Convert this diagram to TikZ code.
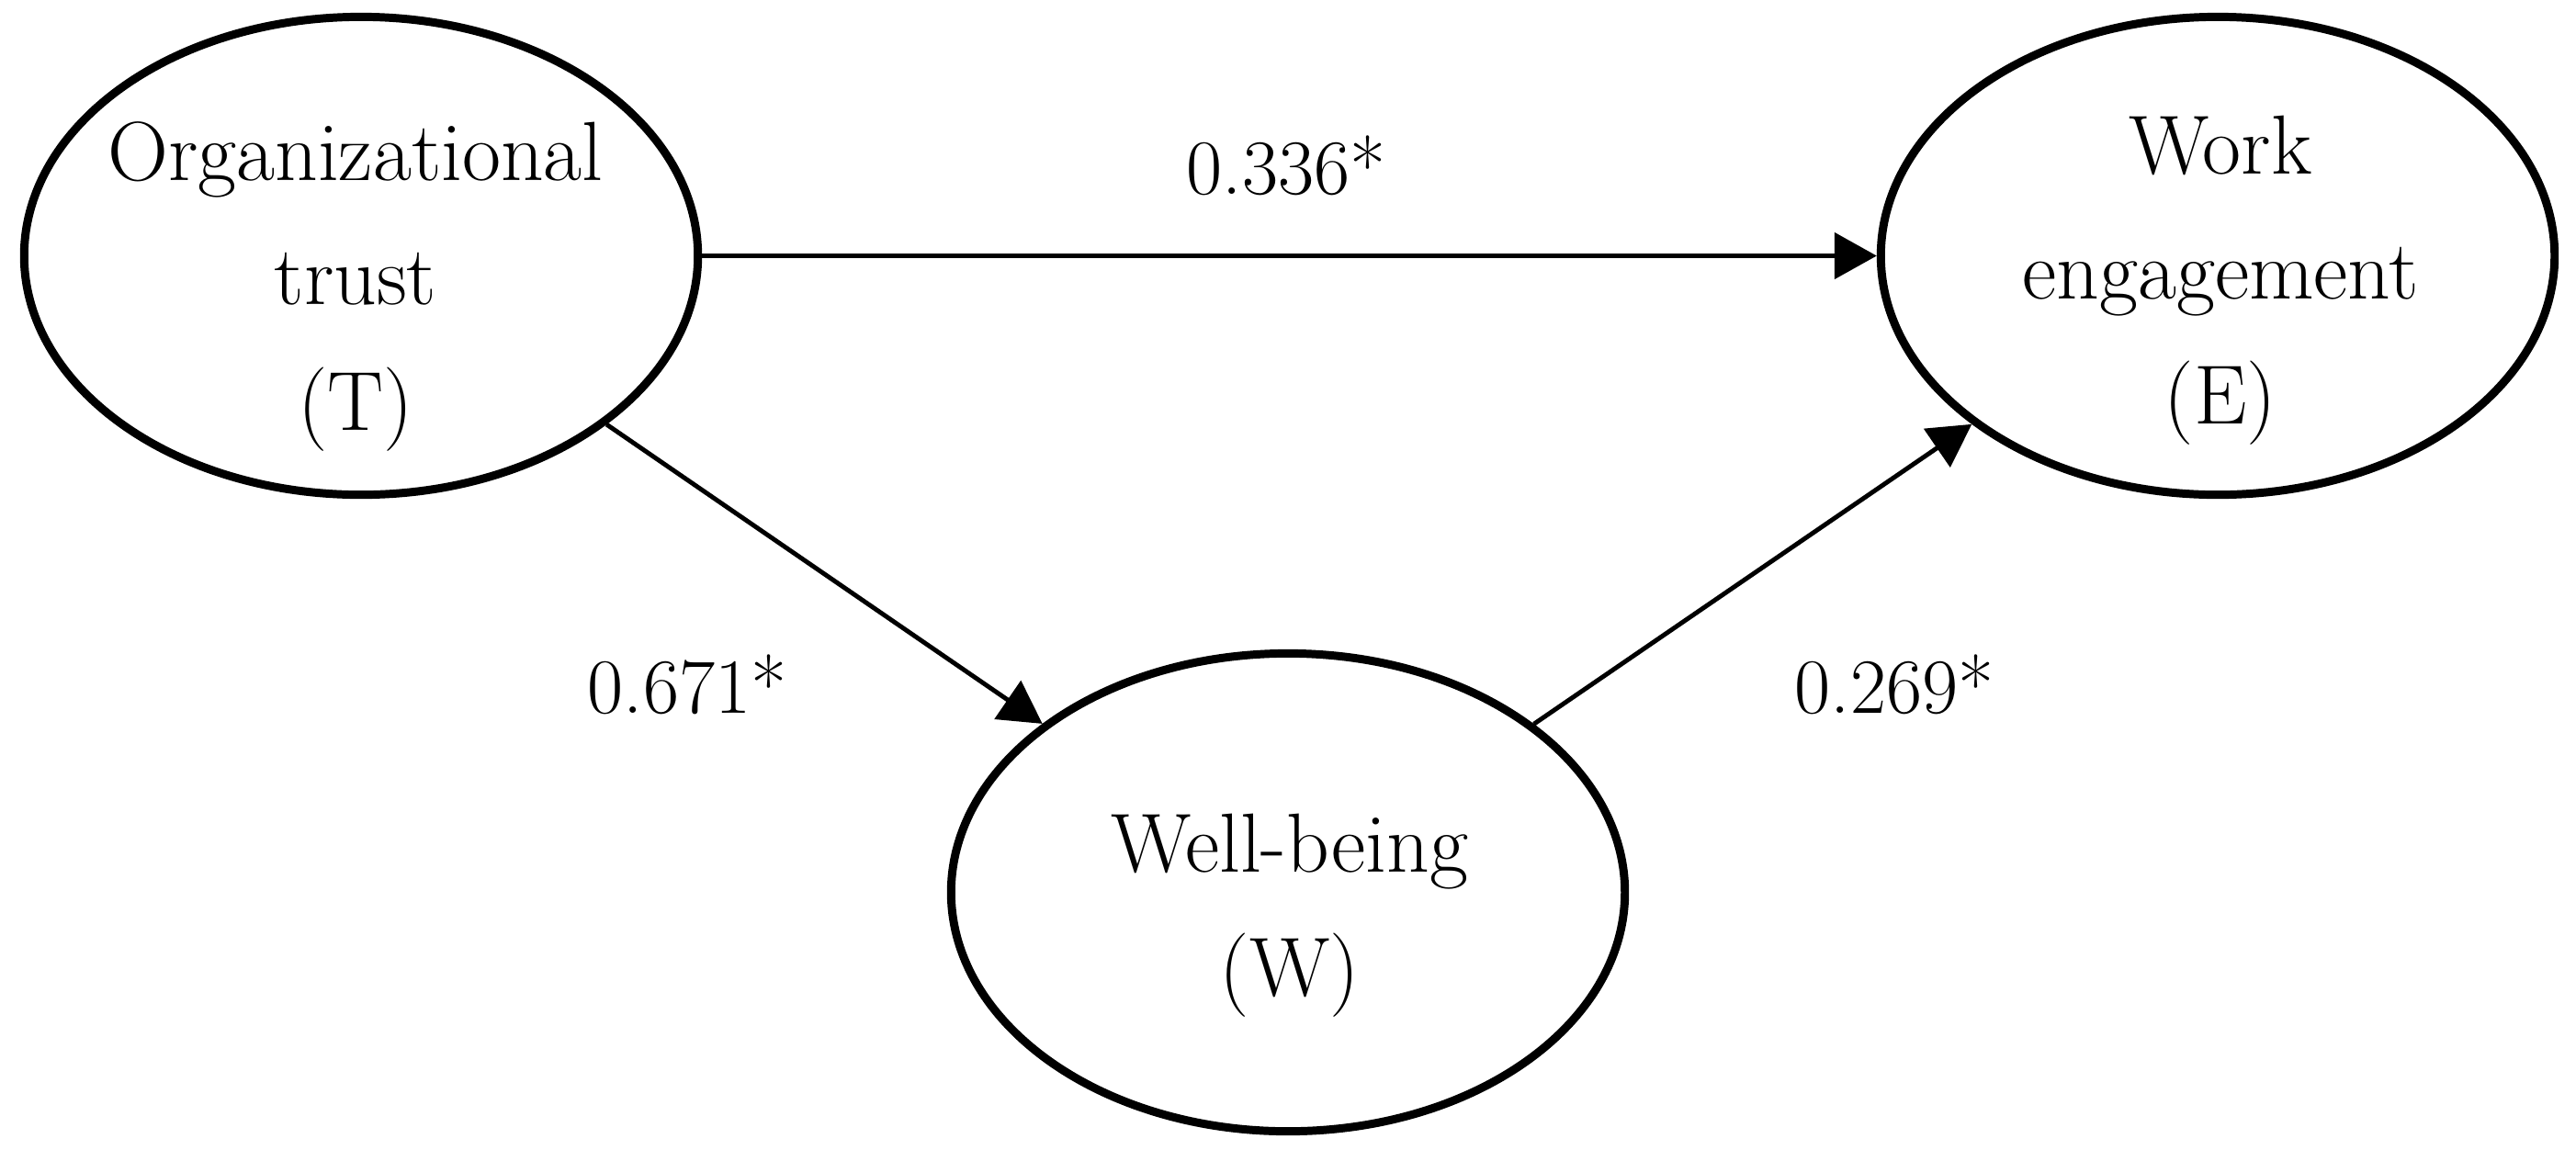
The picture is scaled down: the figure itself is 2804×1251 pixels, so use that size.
\documentclass[tikz,border=0pt]{standalone}
\usepackage{fontspec}
\usetikzlibrary{shapes.geometric,arrows.meta}
\begin{document}
\begin{tikzpicture}[x=0.01cm,y=-0.01cm,
  latent/.style={draw, line width=2.55pt, ellipse, minimum width=7.33cm, minimum height=5.2cm, inner sep=0pt},
  txt/.style={font=\fontsize{26}{30}\selectfont, anchor=base, inner sep=0pt},
  lbl/.style={font=\fontsize{24.2}{28}\selectfont, anchor=base, inner sep=0pt},
  conn/.style={line width=1.4pt, -{Triangle[length=0.46cm,width=0.5cm]}}]
\useasboundingbox (0,0) rectangle (2804,1251);
\node[latent] (T) at (393,278.5) {};
\node[latent] (E) at (2414,278.5) {};
\node[latent] (W) at (1402,971.5) {};
% texts
\node[txt] (t1) at (387,196) {Organizational};
\node[txt] (t2) at (387,331) {trust};
\node[txt] (t3) at (387,468) {(T)};
\node[txt] (e1) at (2417,189) {Work};
\node[txt] (e2) at (2417,325) {engagement};
\node[txt] (e3) at (2417,461) {(E)};
\node[txt] (w1) at (1404,949) {Well-being};
\node[txt] (w2) at (1404,1084) {(W)};
% connectors
\draw[conn] (T) -- (E);
\draw[conn] (T) -- (W);
\draw[conn] (W) -- (E);
% labels
\node[lbl] (l1) at (1400,211) {0.336*};
\node[lbl] (l2) at (748,776) {0.671*};
\node[lbl] (l3) at (2062,776) {0.269*};
\end{tikzpicture}
\end{document}
